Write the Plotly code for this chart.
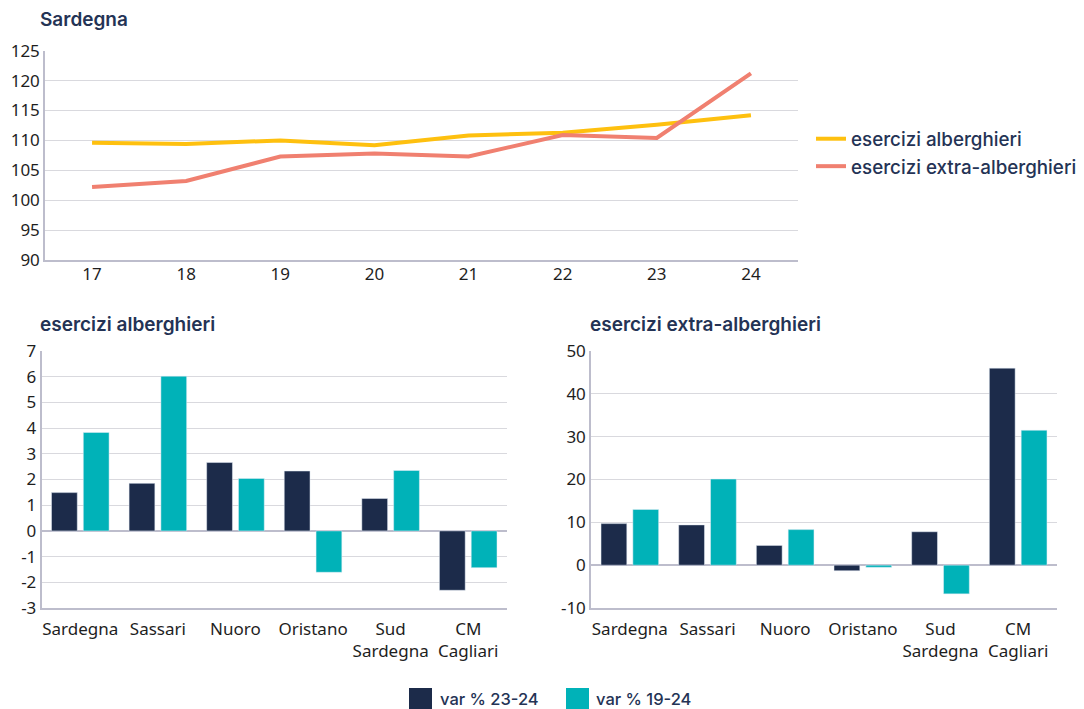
import plotly.graph_objects as go

# ---------------- data ----------------
years = ["17", "18", "19", "20", "21", "22", "23", "24"]
alberghieri_idx = [109.6, 109.4, 110.0, 109.2, 110.8, 111.3, 112.6, 114.2]
extra_idx = [102.2, 103.2, 107.3, 107.8, 107.3, 110.9, 110.4, 121.2]

areas = ["Sardegna", "Sassari", "Nuoro", "Oristano", "Sud<br>Sardegna", "CM<br>Cagliari"]
alb_23_24 = [1.49, 1.85, 2.66, 2.33, 1.26, -2.31]
alb_19_24 = [3.83, 6.02, 2.04, -1.61, 2.35, -1.43]
ext_23_24 = [9.7, 9.4, 4.6, -1.3, 7.8, 46.0]
ext_19_24 = [13.0, 20.1, 8.3, -0.5, -6.7, 31.5]

top_ticks = [90, 95, 100, 105, 110, 115, 120, 125]
left_ticks = [-3, -2, -1, 0, 1, 2, 3, 4, 5, 6, 7]
right_ticks = [-10, 0, 10, 20, 30, 40, 50]

top_title = "Sardegna"
left_title = "esercizi alberghieri"
right_title = "esercizi extra-alberghieri"
line_names = ["esercizi alberghieri", "esercizi extra-alberghieri"]
bar_names = ["var % 23-24", "var % 19-24"]

# ---------------- style ----------------
W, H = 1084, 709
NAVY = "#1c2b4a"
TEAL = "#00b2b8"
YELLOW = "#fec00f"
SALMON = "#f08070"
TITLE_C = "#243355"
GRID = "#d9d9de"
AXIS = "#bdbdcc"
TICK_FONT = dict(family="Noto Sans, Open Sans, sans-serif", size=17, color="#1e1e1e")
TFAM = "Inter, Lato, sans-serif"


def px_x(v):
    return v / W


def px_y(v):
    return 1 - v / H


def labels(vals):
    return [str(v) for v in vals]  # plain hyphen for negatives


fig = go.Figure()

# top line chart
fig.add_trace(go.Scatter(x=years, y=alberghieri_idx, mode="lines", name=line_names[0],
                         line=dict(color=YELLOW, width=4), xaxis="x", yaxis="y", legend="legend"))
fig.add_trace(go.Scatter(x=years, y=extra_idx, mode="lines", name=line_names[1],
                         line=dict(color=SALMON, width=4), xaxis="x", yaxis="y", legend="legend"))

# bottom-left bars
fig.add_trace(go.Bar(x=areas, y=alb_23_24, name=bar_names[0], marker=dict(color=NAVY),
                     xaxis="x2", yaxis="y2", showlegend=False))
fig.add_trace(go.Bar(x=areas, y=alb_19_24, name=bar_names[1], marker=dict(color=TEAL),
                     xaxis="x2", yaxis="y2", showlegend=False))
# bottom-right bars
fig.add_trace(go.Bar(x=areas, y=ext_23_24, name=bar_names[0], marker=dict(color=NAVY),
                     xaxis="x3", yaxis="y3", showlegend=False))
fig.add_trace(go.Bar(x=areas, y=ext_19_24, name=bar_names[1], marker=dict(color=TEAL),
                     xaxis="x3", yaxis="y3", showlegend=False))

xcommon = dict(type="category", showgrid=False, showline=True, linecolor=AXIS, linewidth=1.5,
               ticks="", tickfont=TICK_FONT, fixedrange=True, automargin=False)
ycommon = dict(showgrid=True, gridcolor=GRID, gridwidth=1.2, showline=True, linecolor=AXIS,
               linewidth=1.5, ticks="", tickfont=TICK_FONT, fixedrange=True, automargin=False,
               tickmode="array")

fig.update_layout(
    width=W, height=H,
    autosize=False,
    margin=dict(l=0, r=0, t=0, b=0, pad=0, autoexpand=False),
    paper_bgcolor="white", plot_bgcolor="white",
    barmode="group", bargap=0.18, bargroupgap=0.19,
    showlegend=True,
    xaxis=dict(domain=[px_x(45), px_x(798)], anchor="y", range=[-0.5, 7.5],
               ticklabelstandoff=-2, **xcommon),
    yaxis=dict(domain=[px_y(260), px_y(50.7)], anchor="x", range=[90, 125],
               tickvals=top_ticks, ticktext=labels(top_ticks), zeroline=False, **ycommon),
    xaxis2=dict(domain=[px_x(41.5), px_x(507)], anchor="y2", ticklabelstandoff=5, **xcommon),
    yaxis2=dict(domain=[px_y(608), px_y(351)], anchor="x2", range=[-3, 7],
                tickvals=left_ticks, ticktext=labels(left_ticks),
                zeroline=True, zerolinecolor=AXIS, zerolinewidth=1.5, **ycommon),
    xaxis3=dict(domain=[px_x(591), px_x(1057)], anchor="y3", ticklabelstandoff=5, **xcommon),
    yaxis3=dict(domain=[px_y(608), px_y(351)], anchor="x3", range=[-10, 50],
                tickvals=right_ticks, ticktext=labels(right_ticks),
                zeroline=True, zerolinecolor=AXIS, zerolinewidth=1.5, **ycommon),
    legend=dict(x=px_x(811), y=px_y(120), xanchor="left", yanchor="top",
                font=dict(family=TFAM, size=18.8, color=TITLE_C, weight=500),
                bgcolor="rgba(0,0,0,0)", borderwidth=0, tracegroupgap=2),
)

title_font = dict(family=TFAM, size=19, color=TITLE_C, weight=600)
leg_font = dict(family=TFAM, size=16.5, color=TITLE_C, weight=500)
annotations = [
    dict(text=top_title, x=px_x(38), y=px_y(20), xref="paper", yref="paper", xanchor="left",
         yanchor="middle", showarrow=False, font=title_font),
    dict(text=left_title, x=px_x(38), y=px_y(325), xref="paper", yref="paper", xanchor="left",
         yanchor="middle", showarrow=False, font=title_font),
    dict(text=right_title, x=px_x(588), y=px_y(325), xref="paper", yref="paper", xanchor="left",
         yanchor="middle", showarrow=False, font=title_font),
    dict(text=bar_names[0], x=px_x(438), y=px_y(699), xref="paper", yref="paper", xanchor="left",
         yanchor="middle", showarrow=False, font=leg_font),
    dict(text=bar_names[1], x=px_x(594), y=px_y(699), xref="paper", yref="paper", xanchor="left",
         yanchor="middle", showarrow=False, font=leg_font),
]
shapes = [
    dict(type="rect", xref="paper", yref="paper", x0=px_x(409), x1=px_x(432), y0=px_y(709),
         y1=px_y(688), fillcolor=NAVY, line=dict(width=0)),
    dict(type="rect", xref="paper", yref="paper", x0=px_x(566), x1=px_x(589), y0=px_y(709),
         y1=px_y(688), fillcolor=TEAL, line=dict(width=0)),
]
fig.update_layout(annotations=annotations, shapes=shapes)

fig.write_html("out.html",
               config={"displayModeBar": False},
               post_script="document.body.style.margin='0';document.body.style.overflow='hidden';")
